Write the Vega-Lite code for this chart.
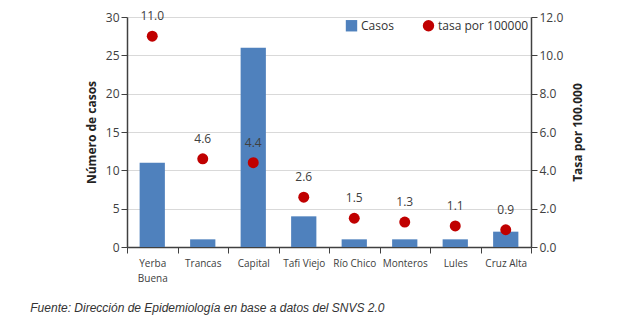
{
  "$schema": "https://vega.github.io/schema/vega-lite/v6.json",
  "width": 404,
  "height": 230,
  "padding": {"left": 30, "top": 10, "right": 5, "bottom": 5},
  "background": "white",
  "config": {"view": {"stroke": null}, "font": "Open Sans"},
  "title": {
    "text": "Fuente: Dirección de Epidemiología en base a datos del SNVS 2.0",
    "orient": "bottom",
    "anchor": "start",
    "frame": "bounds",
    "font": "Liberation Sans",
    "fontStyle": "italic",
    "fontWeight": "normal",
    "fontSize": 12,
    "color": "#333333",
    "dx": -55,
    "offset": 20
  },
  "data": {
    "values": [
      {"depto": "Yerba Buena", "casos": 11, "tasa": 11.0},
      {"depto": "Trancas", "casos": 1, "tasa": 4.6},
      {"depto": "Capital", "casos": 26, "tasa": 4.4},
      {"depto": "Tafi Viejo", "casos": 4, "tasa": 2.6},
      {"depto": "Río Chico", "casos": 1, "tasa": 1.5},
      {"depto": "Monteros", "casos": 1, "tasa": 1.3},
      {"depto": "Lules", "casos": 1, "tasa": 1.1},
      {"depto": "Cruz Alta", "casos": 2, "tasa": 0.9}
    ]
  },
  "encoding": {
    "x": {
      "field": "depto",
      "type": "nominal",
      "sort": null,
      "scale": {"paddingInner": 0, "paddingOuter": 0},
      "axis": {
        "title": null,
        "labelAngle": 0,
        "labelFontSize": 10,
        "labelLineHeight": 15,
        "labelColor": "#404040",
        "labelPadding": 5,
        "labelExpr": "datum.label == 'Yerba Buena' ? ['Yerba', 'Buena'] : datum.label",
        "tickBand": "extent",
        "tickSize": 6,
        "tickColor": "#404040",
        "domainColor": "#404040",
        "domainWidth": 1.5
      }
    }
  },
  "layer": [
    {
      "mark": {"type": "bar", "width": {"band": 0.5}},
      "encoding": {
        "y": {
          "field": "casos",
          "type": "quantitative",
          "scale": {"domain": [0, 30]},
          "axis": {
            "title": "Número de casos",
            "titleFontSize": 12,
            "titleFontWeight": "bold",
            "titleColor": "#222222",
            "values": [0, 5, 10, 15, 20, 25, 30],
            "labelFontSize": 12,
            "labelColor": "#404040",
            "gridColor": "#d9d9d9",
            "domainColor": "#404040",
            "domainWidth": 1.5,
            "tickColor": "#404040",
            "tickSize": 6,
            "titlePadding": 7
          }
        },
        "color": {
          "datum": "Casos",
          "scale": {"domain": ["Casos", "tasa por 100000"], "range": ["#4f81bd", "#c00000"]},
          "legend": {
            "title": null,
            "orient": "top-right",
            "direction": "horizontal",
            "offset": 2,
            "labelFontSize": 12,
            "labelColor": "#333333",
            "symbolSize": 130,
            "columnPadding": 28,
            "labelOffset": 3,
            "encode": {
              "symbols": {
                "update": {
                  "shape": {"signal": "datum.value === 'Casos' ? 'square' : 'circle'"}
                }
              }
            }
          }
        }
      }
    },
    {
      "encoding": {
        "y": {
          "field": "tasa",
          "type": "quantitative",
          "scale": {"domain": [0, 12]},
          "axis": {
            "orient": "right",
            "title": "Tasa por 100.000",
            "titleAngle": 270,
            "titleFontSize": 12,
            "titleFontWeight": "bold",
            "titleColor": "#222222",
            "values": [0, 2, 4, 6, 8, 10, 12],
            "format": ".1f",
            "grid": false,
            "labelFontSize": 12,
            "labelColor": "#404040",
            "domainColor": "#404040",
            "domainWidth": 1.5,
            "tickColor": "#404040",
            "tickSize": 6,
            "titlePadding": 22
          }
        }
      },
      "layer": [
        {
          "mark": {"type": "point", "filled": true, "opacity": 1, "size": 120},
          "encoding": {"color": {"datum": "tasa por 100000"}}
        },
        {
          "mark": {"type": "text", "dy": -20, "fontSize": 12, "color": "#404040"},
          "encoding": {"text": {"field": "tasa", "type": "quantitative", "format": ".1f"}}
        }
      ]
    }
  ],
  "resolve": {"scale": {"y": "independent"}}
}
